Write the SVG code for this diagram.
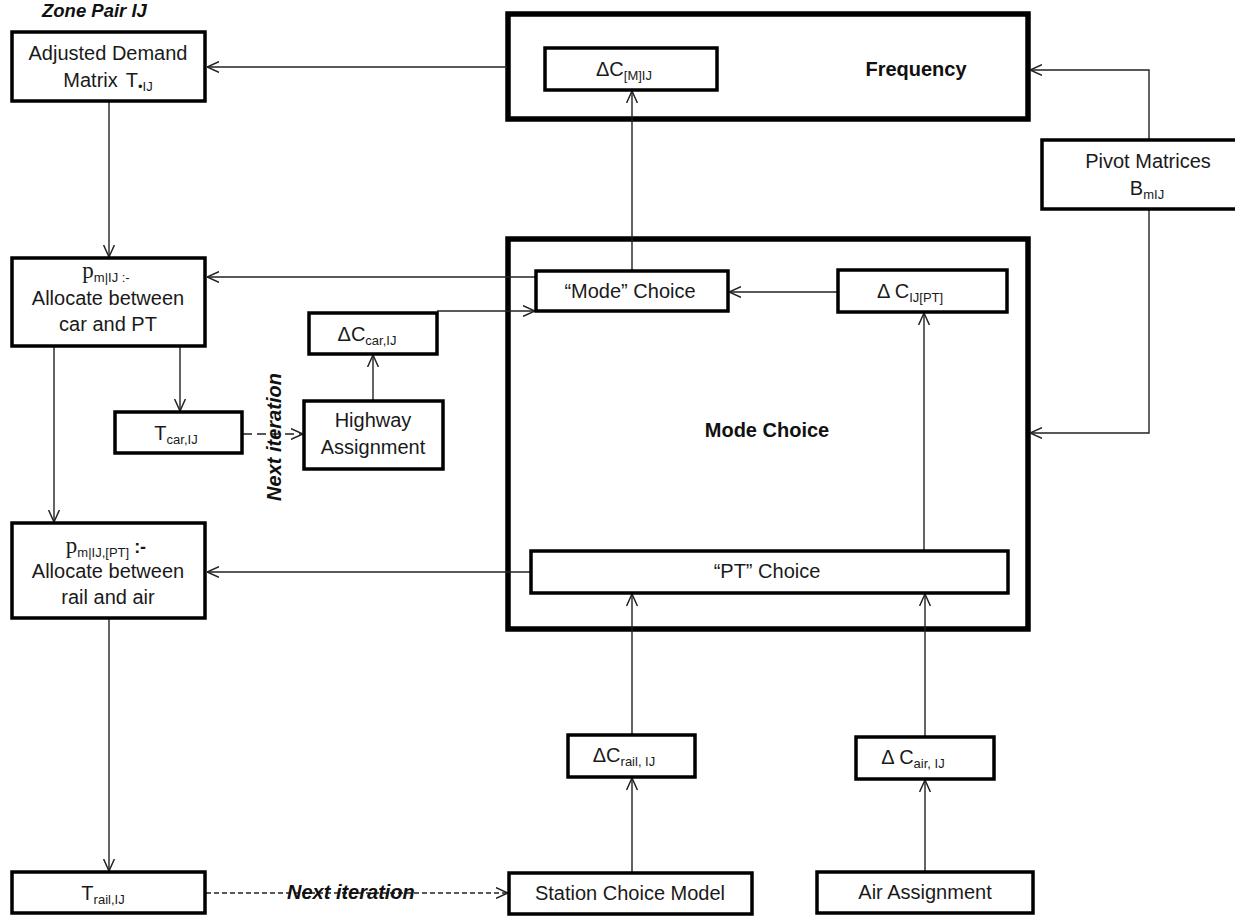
<svg xmlns="http://www.w3.org/2000/svg" width="1235" height="918" viewBox="0 0 1235 918">
<style>
.box{fill:#fff;stroke:#000;stroke-width:3.5}
.big{fill:none;stroke:#000;stroke-width:5.5}
.t{font-family:"Liberation Sans",Arial,sans-serif;font-size:20px;fill:#1a1a1a;text-anchor:middle}
.b{font-family:"Liberation Sans",Arial,sans-serif;font-size:20px;font-weight:bold;fill:#111;text-anchor:middle}
.it{font-family:"Liberation Sans",Arial,sans-serif;font-size:20px;font-weight:bold;font-style:italic;fill:#111}
.sub{font-size:13px}
.serif{font-family:"Liberation Serif","DejaVu Serif",serif;font-size:23px}
.c{fill:none;stroke:#222;stroke-width:1.4}
.d1{stroke-dasharray:9 5}
.d2{stroke-dasharray:5 3}
</style>
<defs>
<marker id="arr" viewBox="0 0 10 10" refX="10" refY="5" markerWidth="12" markerHeight="12" markerUnits="userSpaceOnUse" orient="auto">
<path d="M0,0.5 L10,5 L0,9.5" fill="none" stroke="#222" stroke-width="1.2"/>
</marker>
</defs>
<rect width="1235" height="918" fill="#fff"/>

<text class="it" x="42" y="17" style="font-size:18.5px">Zone Pair IJ</text>

<g id="frequency">
<rect class="big" x="508" y="14" width="520" height="105"/>
<text class="b" x="916" y="76">Frequency</text>
</g>
<g id="modechoice">
<rect class="big" x="508" y="239" width="520" height="390"/>
<text class="b" x="767" y="437">Mode Choice</text>
</g>

<g id="connectors">
<path class="c" d="M507,67 H207" marker-end="url(#arr)"/>
<path class="c" d="M109,102 V257" marker-end="url(#arr)"/>
<path class="c" d="M536,277 H207" marker-end="url(#arr)"/>
<path class="c" d="M54,347 V522" marker-end="url(#arr)"/>
<path class="c" d="M180,347 V411" marker-end="url(#arr)"/>
<path class="c d1" d="M243,434 H303" marker-end="url(#arr)"/>
<path class="c" d="M373,400 V355" marker-end="url(#arr)"/>
<path class="c" d="M437,311 H535" marker-end="url(#arr)"/>
<path class="c" d="M632,270 V91" marker-end="url(#arr)"/>
<path class="c" d="M838,292 H729" marker-end="url(#arr)"/>
<path class="c" d="M924,550 V313" marker-end="url(#arr)"/>
<path class="c" d="M531,572 H207" marker-end="url(#arr)"/>
<path class="c" d="M109,619 V871" marker-end="url(#arr)"/>
<path class="c d2" d="M206,893 H508" marker-end="url(#arr)"/>
<path class="c" d="M632,872 V778" marker-end="url(#arr)"/>
<path class="c" d="M632,734 V594" marker-end="url(#arr)"/>
<path class="c" d="M925,871 V780" marker-end="url(#arr)"/>
<path class="c" d="M925,736 V594" marker-end="url(#arr)"/>
<path class="c" d="M1149,140 V70 H1030" marker-end="url(#arr)"/>
<path class="c" d="M1149,209 V433 H1030" marker-end="url(#arr)"/>
</g>

<g id="adjusted">
<rect class="box" x="12" y="32" width="193" height="69"/>
<text class="t" x="108" y="60">Adjusted Demand</text>
<text class="t" x="108" y="87">Matrix<tspan dx="8">T</tspan><tspan class="sub" dy="4">•IJ</tspan></text>
</g>
<g id="pm1">
<rect class="box" x="12" y="258" width="193" height="88"/>
<text class="t" x="106" y="278"><tspan class="serif">p</tspan><tspan class="sub" dy="4">m|IJ :-</tspan></text>
<text class="t" x="108" y="305">Allocate between</text>
<text class="t" x="108" y="331">car and PT</text>
</g>
<g id="tcar">
<rect class="box" x="115" y="412" width="127" height="41"/>
<text class="t" x="176" y="440">T<tspan class="sub" dy="4">car,IJ</tspan></text>
</g>
<g id="dccar">
<rect class="box" x="309" y="313" width="128" height="41"/>
<text class="t" x="367" y="341">ΔC<tspan class="sub" dy="4">car,IJ</tspan></text>
</g>
<g id="highway">
<rect class="box" x="304" y="401" width="139" height="68"/>
<text class="t" x="373" y="427">Highway</text>
<text class="t" x="373" y="454">Assignment</text>
</g>
<text class="it" transform="translate(281,437) rotate(-90)" text-anchor="middle">Next iteration</text>
<g id="pm2">
<rect class="box" x="12" y="523" width="193" height="95"/>
<text class="t" x="106" y="553"><tspan class="serif">p</tspan><tspan class="sub" dy="4">m|IJ,[PT]</tspan><tspan dy="-4" style="font-weight:bold;font-size:18px"> :-</tspan></text>
<text class="t" x="108" y="578">Allocate between</text>
<text class="t" x="108" y="604">rail and air</text>
</g>
<g id="trail">
<rect class="box" x="12" y="872" width="193" height="41"/>
<text class="t" x="103" y="900">T<tspan class="sub" dy="4">rail,IJ</tspan></text>
</g>
<text class="it" x="287" y="899">Next iteration</text>
<g id="dcm">
<rect class="box" x="545" y="48" width="172" height="42"/>
<text class="t" x="624" y="76">ΔC<tspan class="sub" dy="4">[M]IJ</tspan></text>
</g>
<g id="pivot">
<rect class="box" x="1042" y="140" width="200" height="69"/>
<text class="t" x="1148" y="168">Pivot Matrices</text>
<text class="t" x="1147" y="195">B<tspan class="sub" dy="4">mIJ</tspan></text>
</g>
<g id="modebox">
<rect class="box" x="536" y="271" width="192" height="40"/>
<text class="t" x="630" y="298">“Mode” Choice</text>
</g>
<g id="dcijpt">
<rect class="box" x="838" y="270" width="169" height="42"/>
<text class="t" x="910" y="298">Δ C<tspan class="sub" dy="4">IJ[PT]</tspan></text>
</g>
<g id="ptchoice">
<rect class="box" x="531" y="551" width="477" height="42"/>
<text class="t" x="767" y="578">“PT” Choice</text>
</g>
<g id="dcrail">
<rect class="box" x="568" y="735" width="127" height="42"/>
<text class="t" x="624" y="762">ΔC<tspan class="sub" dy="4">rail, IJ</tspan></text>
</g>
<g id="dcair">
<rect class="box" x="856" y="737" width="138" height="42"/>
<text class="t" x="913" y="764">Δ C<tspan class="sub" dy="4">air, IJ</tspan></text>
</g>
<g id="station">
<rect class="box" x="509" y="873" width="243" height="41"/>
<text class="t" x="630" y="900">Station Choice Model</text>
</g>
<g id="air">
<rect class="box" x="817" y="872" width="216" height="41"/>
<text class="t" x="925" y="899">Air Assignment</text>
</g>
</svg>
